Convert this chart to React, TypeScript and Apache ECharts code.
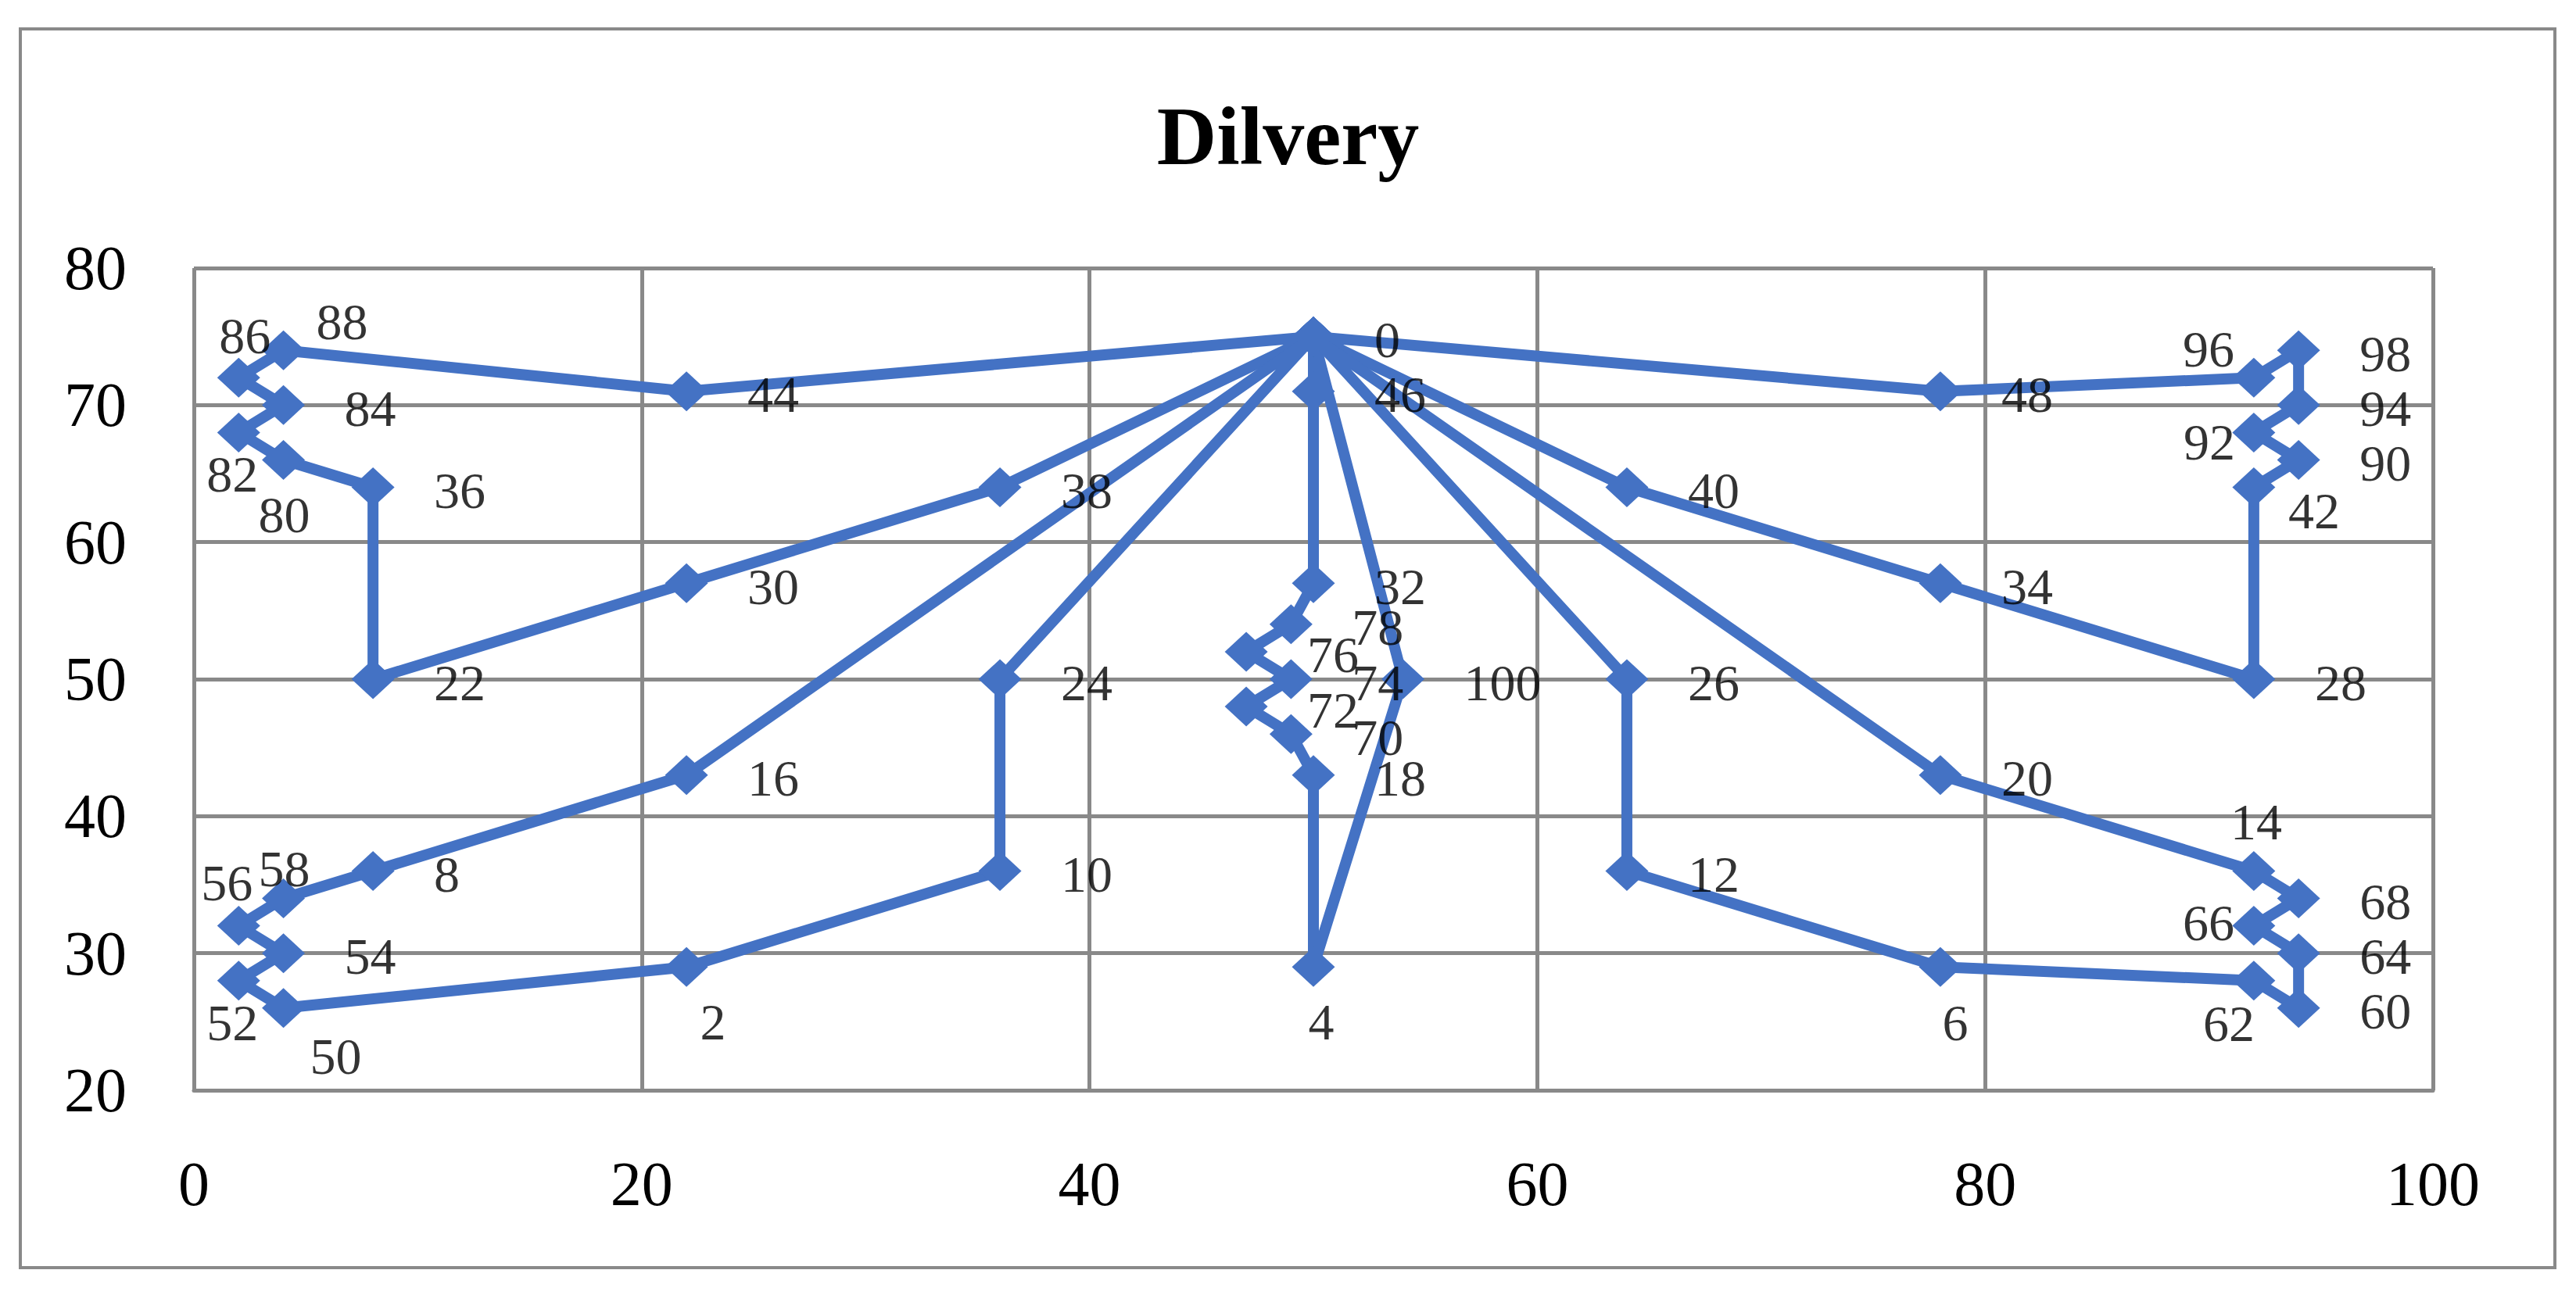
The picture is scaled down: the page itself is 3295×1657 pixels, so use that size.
import React, { useEffect, useRef } from "react";
import * as echarts from "echarts";

// Node ids and coordinates
const nodeIds = [0, 2, 4, 6, 8, 10, 12, 14, 16, 18, 20, 22, 24, 26, 28, 30, 32, 34, 36, 38, 40, 42, 44, 46, 48, 50, 52, 54, 56, 58, 60, 62, 64, 66, 68, 70, 72, 74, 76, 78, 80, 82, 84, 86, 88, 90, 92, 94, 96, 98, 100];
const nodeX = [50, 22, 50, 78, 8, 36, 64, 92, 22, 50, 78, 8, 36, 64, 92, 22, 50, 78, 8, 36, 64, 92, 22, 50, 78, 4, 2, 4, 2, 4, 94, 92, 94, 92, 94, 49, 47, 49, 47, 49, 4, 2, 4, 2, 4, 94, 92, 94, 92, 94, 54];
const nodeY = [75, 29, 29, 29, 36, 36, 36, 36, 43, 43, 43, 50, 50, 50, 50, 57, 57, 57, 64, 64, 64, 64, 71, 71, 71, 26, 28, 30, 32, 34, 26, 28, 30, 32, 34, 46, 48, 50, 52, 54, 66, 68, 70, 72, 74, 66, 68, 70, 72, 74, 50];

// Delivery routes (sequence of node ids)
const routes = [
  [0, 44, 88, 86, 84, 82, 80, 36, 22, 30, 38, 0],
  [0, 16, 8, 58, 56, 54, 52, 50, 2, 10, 24, 0],
  [0, 46, 32, 78, 76, 74, 72, 70, 18, 4, 100, 0],
  [0, 40, 34, 28, 42, 90, 92, 94, 98, 96, 48, 0],
  [0, 26, 12, 6, 62, 60, 64, 66, 68, 14, 20, 0],
];

const titleText = "Dilvery";

// label placement (style): center offsets in px for labels not placed to the right
const labelOffsets: Record<number, [number, number]> = {
  88: [75, -37],
  86: [8, -54],
  82: [-8, 53],
  80: [1, 70],
  58: [1, -38],
  56: [-15, -55],
  52: [-8, 54],
  50: [67, 62],
  2: [34, 70],
  4: [10, 70],
  6: [19, 71],
  96: [-58, -37],
  92: [-57, 12],
  42: [77, 30],
  14: [3, -63],
  66: [-58, -4],
  62: [-32, 55],
};

const FONT = "'Liberation Serif', 'Times New Roman', serif";
const BLUE = "#4472C4";
const GRID = "#898989";

function coordOf(id: number): [number, number] {
  const i = nodeIds.indexOf(id);
  return [nodeX[i], nodeY[i]];
}

export default function App() {
  const ref = useRef<HTMLDivElement>(null);
  useEffect(() => {
    document.body.style.margin = "0";
    const chart = echarts.init(ref.current!, undefined, { renderer: "svg" });

    const lineSeries = routes.map((r, k) => ({
      type: "line",
      name: "route" + k,
      data: r.map((id) => coordOf(id)),
      symbol: "diamond",
      symbolSize: [55, 51],
      showAllSymbol: true,
      lineStyle: { color: BLUE, width: 14 },
      itemStyle: { color: BLUE },
      label: { show: false },
      z: 2,
    }));

    const labelData = nodeIds.map((id, i) => {
      const len = String(id).length;
      const off = labelOffsets[id] || [78 + len * 16.5, 4];
      return {
        value: [nodeX[i], nodeY[i]],
        label: { offset: off },
      };
    });

    chart.setOption({
      animation: false,
      backgroundColor: "#ffffff",
      title: {
        text: titleText,
        left: "center",
        top: 116,
        textStyle: { fontFamily: FONT, fontWeight: "bold", fontSize: 106, color: "#000" },
      },
      grid: { left: 248, right: 183, top: 343, bottom: 262, containLabel: false },
      xAxis: {
        type: "value",
        min: 0,
        max: 100,
        interval: 20,
        axisLine: { show: true, lineStyle: { color: GRID, width: 5 } },
        axisTick: { show: false },
        axisLabel: { fontFamily: FONT, fontSize: 80, color: "#000", margin: 80 },
        splitLine: { show: true, lineStyle: { color: GRID, width: 5 } },
      },
      yAxis: {
        type: "value",
        min: 20,
        max: 80,
        interval: 10,
        axisLine: { show: false },
        axisTick: { show: false },
        axisLabel: { fontFamily: FONT, fontSize: 80, color: "#000", margin: 86 },
        splitLine: { show: true, lineStyle: { color: GRID, width: 5 } },
      },
      graphic: [
        {
          type: "rect",
          shape: { x: 26, y: 37, width: 3242, height: 1585 },
          style: { fill: "none", stroke: GRID, lineWidth: 4 },
          silent: true,
        },
      ],
      series: [
        ...lineSeries,
        {
          type: "scatter",
          name: "labels",
          data: labelData,
          symbol: "circle",
          symbolSize: 1,
          itemStyle: { color: "rgba(0,0,0,0)" },
          z: 10,
          label: {
            show: true,
            position: "inside",
            align: "center",
            verticalAlign: "middle",
            fontFamily: FONT,
            fontSize: 66,
            color: "#000",
            formatter: (p: any) => String(nodeIds[p.dataIndex]),
          },
        },
      ],
    });
    return () => chart.dispose();
  }, []);
  return <div ref={ref} style={{ width: 3295, height: 1657 }} />;
}
